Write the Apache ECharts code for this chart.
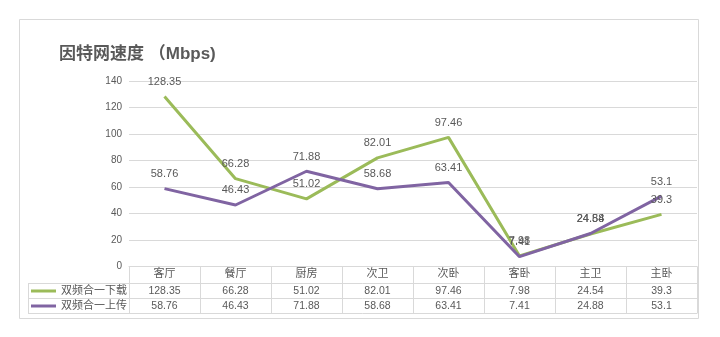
<!DOCTYPE html>
<html><head><meta charset="utf-8">
<script src="https://cdn.jsdelivr.net/npm/echarts@6/dist/echarts.min.js"></script>
<style>html,body{margin:0;padding:0;background:#fff}#c{width:720px;height:337px}</style>
</head><body><div id="c"></div>
<script>
const categories = ['客厅','餐厅','厨房','次卫','次卧','客卧','主卫','主卧'];
const downloadValues = [128.35,66.28,51.02,82.01,97.46,7.98,24.54,39.3];
const uploadValues = [58.76,46.43,71.88,58.68,63.41,7.41,24.88,53.1];
const seriesNames = ['双频合一下载','双频合一上传'];
const yMin = 0, yMax = 140, yInterval = 20;
const titleText = '因特网速度 （Mbps)';

const FONT = '"Liberation Sans","Noto Sans CJK SC",sans-serif';
const GRAY = '#595959', LINE = '#d9d9d9';
const GREEN = '#9bbb59', PURPLE = '#8064a2';

const chart = echarts.init(document.getElementById('c'), null, {renderer:'canvas'});
const valueAxis = (offset, values) => ({
  type:'category', data:categories, position:'bottom', offset:offset,
  axisLine:{show:false}, axisTick:{show:false}, splitLine:{show:false},
  axisLabel:{margin:2, fontSize:10.5, color:GRAY, fontFamily:FONT, interval:0,
    formatter:(v,i)=>String(values[i])}
});
const lineSeries = (name, values, color) => ({
  name:name, type:'line', data:values, xAxisIndex:0, yAxisIndex:0,
  symbol:'circle', symbolSize:0.1, showSymbol:true,
  lineStyle:{color:color, width:3}, itemStyle:{color:color},
  label:{show:true, position:'top', distance:9, fontSize:11, color:GRAY, fontFamily:FONT},
  emphasis:{disabled:true}
});
chart.setOption({
  animation:false,
  backgroundColor:'#fff',
  textStyle:{fontFamily:FONT},
  title:{text:titleText, left:59, top:46, padding:0,
    textStyle:{fontSize:17, fontWeight:'bold', color:GRAY, fontFamily:FONT}},
  legend:{orient:'vertical', left:31, top:283.5, padding:0, itemWidth:25, itemHeight:3, itemGap:0,
    icon:'rect', selectedMode:false, data:seriesNames,
    textStyle:{fontSize:11, color:GRAY, lineHeight:15, fontFamily:FONT}},
  grid:{left:129, top:81, width:568, height:185.5},
  xAxis:[
    {type:'category', data:categories, boundaryGap:true,
     axisLine:{lineStyle:{color:LINE, width:1}},
     axisTick:{show:true, length:47, lineStyle:{color:LINE}},
     axisLabel:{margin:2, fontSize:11, color:GRAY, fontFamily:FONT, interval:0}},
    valueAxis(17, downloadValues),
    valueAxis(32, uploadValues)
  ],
  yAxis:{type:'value', min:yMin, max:yMax, interval:yInterval,
    axisLine:{show:false}, axisTick:{show:false},
    splitLine:{lineStyle:{color:LINE, width:1}},
    axisLabel:{margin:7, fontSize:10, color:GRAY, fontFamily:FONT}},
  graphic:[
    {type:'rect', shape:{x:19.5, y:19.5, width:679, height:299}, style:{fill:null, stroke:LINE, lineWidth:1}, silent:true, z:-1},
    {type:'line', shape:{x1:28, y1:283.5, x2:697, y2:283.5}, style:{stroke:LINE, lineWidth:1}, silent:true},
    {type:'line', shape:{x1:28, y1:298.5, x2:697, y2:298.5}, style:{stroke:LINE, lineWidth:1}, silent:true},
    {type:'line', shape:{x1:28, y1:313.5, x2:697, y2:313.5}, style:{stroke:LINE, lineWidth:1}, silent:true},
    {type:'line', shape:{x1:28.5, y1:283, x2:28.5, y2:313.5}, style:{stroke:LINE, lineWidth:1}, silent:true}
  ],
  series:[
    lineSeries(seriesNames[0], downloadValues, GREEN),
    lineSeries(seriesNames[1], uploadValues, PURPLE)
  ]
});
</script></body></html>
